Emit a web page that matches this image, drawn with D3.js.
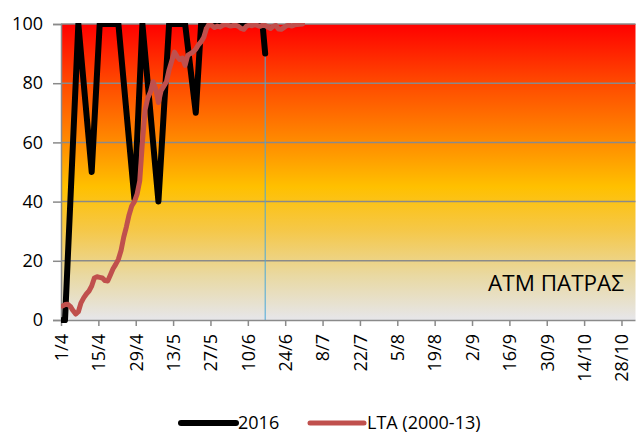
<!DOCTYPE html>
<html>
<head>
<meta charset="utf-8">
<script src="https://cdn.jsdelivr.net/npm/d3@7"></script>
<style>
  html, body { margin: 0; padding: 0; background: #fff; }
  svg { display: block; }
  text { font-family: "Open Sans", "Noto Sans", sans-serif; fill: #000; }
</style>
</head>
<body>
<svg id="chart" width="643" height="434"></svg>
<script>
// ---------- DATA ----------
const tickLabels = ["1/4","15/4","29/4","13/5","27/5","10/6","24/6","8/7","22/7","5/8","19/8","2/9","16/9","30/9","14/10","28/10"];
const yTicks = [0, 20, 40, 60, 80, 100];

const dates2016 = ["1/4","2/4","7/4","12/4","15/4","22/4","28/4","1/5","7/5","11/5","17/5","21/5","23/5","15/6","16/6"];
const values2016 = [0, 0, 100, 50, 100, 100, 41, 100, 40, 100, 100, 70, 100, 100, 90];

const ltaStart = "1/4";
const ltaValues = [
  4.7, 5.2, 5.3, 4.6, 3.2, 2.0, 2.8, 5.8, 7.5, 8.8,
  9.8, 11.5, 14.2, 14.6, 14.4, 14.2, 13.3, 13.2, 15.2, 17.3,
  18.8, 20.5, 23.5, 28, 31.5, 35.5, 38.5, 40, 42.5, 47,
  60, 71, 75, 77, 80.5, 78, 73.5, 77.5, 79, 80.5,
  84.5, 87.5, 90.5, 89, 88, 88.5, 86, 89.5, 90, 90.6,
  91.5, 93, 94, 95.5, 98.5, 100, 99.5, 98.8, 99.3, 99,
  99.5, 99.8, 99.6, 99.3, 99.5, 99.6, 99.2, 98.5, 98.2, 99.3,
  99.6, 99.4, 99.8, 99.5, 99.2, 99.6, 99.5, 99, 98.5, 99.2,
  99.5, 98.3, 98.2, 98.8, 99.4, 99.6, 99.3, 99.7, 99.8, 99.9, 100
];
const currentDate = "16/6";
const stationLabel = "ΑΤΜ ΠΑΤΡΑΣ";
const seriesNames = ["2016", "LTA (2000-13)"];

// ---------- HELPERS ----------
const parse = d3.timeParse("%d/%m/%Y");
const origin = parse("1/4/2016");
const dayIndex = s => d3.timeDay.count(origin, parse(s + "/2016"));

// ---------- LAYOUT ----------
const svg = d3.select("#chart");
const L = 61, R = 635.5, T = 24, B = 320;

const x = d3.scaleLinear().domain([0, 215.25]).range([L, R]);
const y = d3.scaleLinear().domain([0, 100]).range([B, T]);
const px = d => x(d + 0.5);

// gradient background
const defs = svg.append("defs");
const grad = defs.append("linearGradient").attr("id", "bg")
  .attr("x1", 0).attr("y1", 0).attr("x2", 0).attr("y2", 1);
[[0, "#ff0000"], [0.2, "#ff4a00"], [0.4, "#ff8c00"], [0.55, "#ffc000"],
 [0.7, "#f5c84a"], [0.85, "#e9d9a2"], [1, "#e6e6ea"]].forEach(([o, c]) =>
  grad.append("stop").attr("offset", o).attr("stop-color", c));

defs.append("clipPath").attr("id", "clip")
  .append("rect").attr("x", L).attr("y", T - 1).attr("width", R - L).attr("height", B - T + 10);

svg.append("rect").attr("x", L).attr("y", T).attr("width", R - L).attr("height", B - T)
  .attr("fill", "url(#bg)");

// gridlines
svg.append("g").selectAll("line").data(yTicks.filter(v => v > 0)).join("line")
  .attr("x1", L).attr("x2", R).attr("y1", d => y(d)).attr("y2", d => y(d))
  .attr("stroke", "#8a8a8a").attr("stroke-width", 1.5);

// current date vertical line
svg.append("line")
  .attr("x1", px(dayIndex(currentDate))).attr("x2", px(dayIndex(currentDate)))
  .attr("y1", T).attr("y2", B)
  .attr("stroke", "#4aa8d8").attr("stroke-width", 1);

// Y axis
const yAxis = d3.axisLeft(y).tickValues(yTicks).tickSize(8).tickPadding(10);
const gy = svg.append("g").attr("transform", `translate(${L},0)`).call(yAxis);
gy.select(".domain").attr("stroke", "#8a8a8a").attr("stroke-width", 1.5);
gy.selectAll(".tick line").attr("stroke", "#8a8a8a").attr("stroke-width", 1.5);
gy.selectAll(".tick text").attr("font-size", 18).attr("font-family", "Open Sans").attr("fill", "#000");

// X axis
const tickDays = tickLabels.map(dayIndex);
const xAxis = d3.axisBottom(x).tickValues(tickDays).tickSize(6)
  .tickFormat((d, i) => tickLabels[i]).tickSizeOuter(0);
const gx = svg.append("g").attr("transform", `translate(0,${B})`).call(xAxis);
gx.select(".domain").attr("stroke", "#8a8a8a").attr("stroke-width", 1.5)
  .attr("d", `M${L},0.5H${R}`);
gx.selectAll(".tick line").attr("stroke", "#8a8a8a").attr("stroke-width", 1.5);
gx.selectAll(".tick text")
  .attr("font-size", 18).attr("font-family", "Open Sans").attr("fill", "#000")
  .attr("text-anchor", "end")
  .attr("transform", "translate(0,14) rotate(-90)")
  .attr("x", 0).attr("y", 0).attr("dy", "0.35em");

// lines
const line = d3.line().x(d => px(d[0])).y(d => y(d[1]));
const data2016 = dates2016.map((s, i) => [dayIndex(s), values2016[i]]);
const lta0 = dayIndex(ltaStart);
const dataLTA = ltaValues.map((v, i) => [lta0 + i, v]);

const gLines = svg.append("g").attr("clip-path", "url(#clip)");
gLines.append("path").datum(data2016).attr("d", line)
  .attr("fill", "none").attr("stroke", "#000").attr("stroke-width", 6)
  .attr("stroke-linejoin", "round").attr("stroke-linecap", "round");
gLines.append("path").datum(dataLTA).attr("d", line)
  .attr("fill", "none").attr("stroke", "#c0504d").attr("stroke-width", 5)
  .attr("stroke-linejoin", "round").attr("stroke-linecap", "round");

// station label
const st = svg.append("text").attr("x", 624).attr("y", 291)
  .attr("text-anchor", "end").attr("font-size", 20).text(stationLabel);
const w = st.node().getComputedTextLength();
st.attr("font-size", 20 * 136 / w);

// legend
const legend = [
  {x1: 181, x2: 236, tx: 238, color: "#000", w: 6, name: seriesNames[0]},
  {x1: 310, x2: 364, tx: 367, color: "#c0504d", w: 5, name: seriesNames[1]}
];
const lg = svg.append("g");
legend.forEach(l => {
  lg.append("line").attr("x1", l.x1).attr("x2", l.x2).attr("y1", 423).attr("y2", 423)
    .attr("stroke", l.color).attr("stroke-width", l.w).attr("stroke-linecap", "round");
  lg.append("text").attr("x", l.tx).attr("y", 423).attr("dy", "0.35em")
    .attr("font-size", 18).text(l.name);
});
</script>
</body>
</html>
